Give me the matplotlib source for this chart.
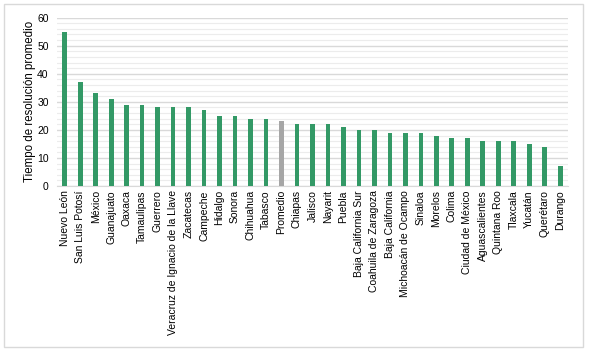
import matplotlib
matplotlib.use("Agg")
import matplotlib.pyplot as plt
from matplotlib.patches import Rectangle
from matplotlib.ticker import MultipleLocator

plt.rcParams['font.family'] = ['Liberation Sans', 'DejaVu Sans']

estados = ["Nuevo León", "San Luis Potosí", "México", "Guanajuato", "Oaxaca",
           "Tamaulipas", "Guerrero", "Veracruz de Ignacio de la Llave", "Zacatecas",
           "Campeche", "Hidalgo", "Sonora", "Chihuahua", "Tabasco", "Promedio",
           "Chiapas", "Jalisco", "Nayarit", "Puebla", "Baja California Sur",
           "Coahuila de Zaragoza", "Baja California", "Michoacán de Ocampo",
           "Sinaloa", "Morelos", "Colima", "Ciudad de México", "Aguascalientes",
           "Quintana Roo", "Tlaxcala", "Yucatán", "Querétaro", "Durango"]
valores = [55, 37, 33, 31, 29, 29, 28, 28, 28, 27, 25, 25, 24, 24, 23,
           22, 22, 22, 21, 20, 20, 19, 19, 19, 18, 17, 17, 16, 16, 16, 15, 14, 7]

colores = ['#a6a6a6' if e == "Promedio" else '#339966' for e in estados]

fig = plt.figure(figsize=(5.9, 3.53), dpi=100)
ax = fig.add_axes([0.0966, 0.473, 0.866, 0.477])

ax.bar(range(len(estados)), valores, width=0.3, color=colores, zorder=3)
ax.set_xlim(-0.5, len(estados) - 0.5)
ax.set_ylim(0, 60)
ax.yaxis.set_major_locator(MultipleLocator(10))
ax.yaxis.set_minor_locator(MultipleLocator(2))
ax.grid(axis='y', which='major', color='#d9d9d9', linewidth=1.0, zorder=0)
ax.grid(axis='y', which='minor', color='#ececec', linewidth=0.8, zorder=0)
ax.set_xticks(range(len(estados)))
ax.set_xticklabels(estados, rotation=90, fontsize=7.5, color='#000000')
ax.tick_params(axis='y', labelsize=7.5, length=0, pad=6)
ax.tick_params(axis='x', length=0, pad=3)
ax.tick_params(axis='y', which='minor', length=0)
for s in ['top', 'right', 'left']:
    ax.spines[s].set_visible(False)
ax.spines['bottom'].set_color('#d9d9d9')
ax.set_ylabel("Tiempo de resolución promedio", fontsize=8.3, labelpad=2)
ax.yaxis.set_label_coords(-0.042, 0.5)

fig.patches.append(Rectangle((0.006, 0.017), 0.982, 0.972, transform=fig.transFigure,
                             fill=False, edgecolor='#d9d9d9', linewidth=1.0))

fig.savefig("out.png", dpi=100)
